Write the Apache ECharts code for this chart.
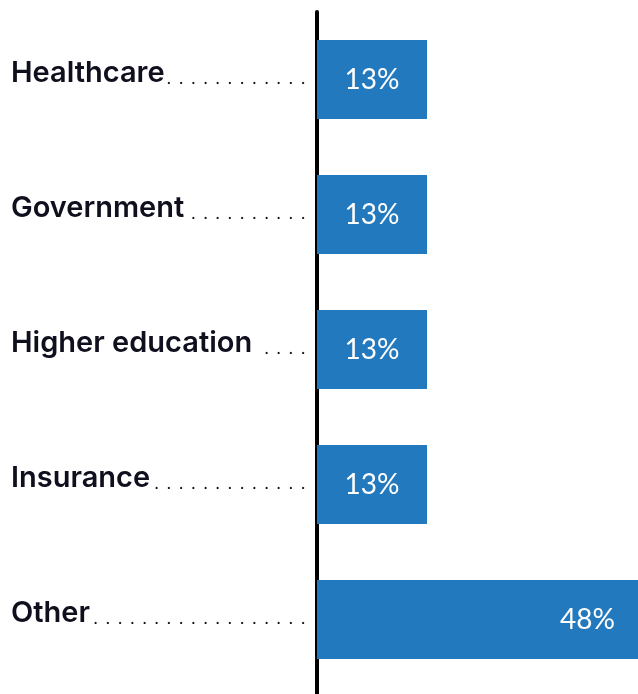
<!DOCTYPE html>
<html><head><meta charset="utf-8">
<script src="https://cdn.jsdelivr.net/npm/echarts@6/dist/echarts.min.js"></script>
<style>html,body{margin:0;padding:0;background:#fff}#c{width:638px;height:694px}</style>
</head><body><div id="c"></div>
<script>
const categories = ['Healthcare', 'Government', 'Higher education', 'Insurance', 'Other'];
const values = [13, 13, 13, 13, 48];
const labelSuffix = '%';

const NAME_FONT = 'Inter';
const NAME_SIZE = 29;
const NAME_WEIGHT = 600;
const DOT_STEP = 12.2;
const LABEL_LEFT = 11;
const LAST_DOT = 301;

const ctx = document.createElement('canvas').getContext('2d');
ctx.font = NAME_WEIGHT + ' ' + NAME_SIZE + 'px ' + NAME_FONT;

const rich = {
  n: {fontFamily: NAME_FONT, fontWeight: NAME_WEIGHT, fontSize: NAME_SIZE, color: '#0f0f1e'},
  d: {fontFamily: 'Lato', fontSize: 18, color: '#111', width: DOT_STEP, align: 'left', padding: [10, 0, 0, 0]}
};
const labelText = {};
categories.forEach(function (name, i) {
  const nameEnd = ctx.measureText(name).width;
  const room = (LAST_DOT - LABEL_LEFT) - nameEnd - 2;
  const n = Math.max(0, Math.floor(room / DOT_STEP) + 1);
  const spacer = (LAST_DOT - LABEL_LEFT) - (n - 1) * DOT_STEP - nameEnd;
  rich['s' + i] = {width: Math.max(0.5, spacer), fontSize: 1};
  labelText[name] = '{n|' + name + '}{s' + i + '| }' + '{d|.}'.repeat(n);
});

const chart = echarts.init(document.getElementById('c'), null, {renderer: 'canvas'});

const option = {
  animation: false,
  backgroundColor: '#fff',
  grid: [
    {left: 317, right: 0, top: 12, bottom: 7, containLabel: false},
    {left: 317, right: 0, top: 12, bottom: 0, containLabel: false}
  ],
  xAxis: [
    {type: 'value', gridIndex: 0, min: 0, max: 48, show: false},
    {type: 'value', gridIndex: 1, min: 0, max: 1, show: false}
  ],
  yAxis: [
    {
      type: 'category', gridIndex: 0, data: categories, inverse: true,
      axisLine: {show: false}, axisTick: {show: false}, splitLine: {show: false},
      axisLabel: {
        show: true, align: 'left', margin: 317 - LABEL_LEFT, verticalAlign: 'middle',
        padding: [0, 0, 12, 0],
        formatter: function (v) { return labelText[v]; },
        rich: rich
      }
    },
    {
      type: 'value', gridIndex: 1, min: 0, max: 1,
      axisLine: {show: true, lineStyle: {color: '#000', width: 4}},
      axisTick: {show: false}, axisLabel: {show: false}, splitLine: {show: false}
    }
  ],
  series: [{
    type: 'bar', xAxisIndex: 0, yAxisIndex: 0,
    data: values.map(function (v) {
      const big = v === Math.max.apply(null, values);
      return {
        value: v,
        label: big ? {position: 'insideRight', distance: 23} : {position: 'inside'}
      };
    }),
    barWidth: 79,
    barMinHeight: 110,
    itemStyle: {color: '#2379bd'},
    label: {
      show: true, color: '#fff', fontFamily: 'Lato', fontSize: 28, fontWeight: 'normal',
      formatter: function (p) { return p.value + labelSuffix; }
    }
  }]
};
chart.setOption(option);
</script>
</body></html>
